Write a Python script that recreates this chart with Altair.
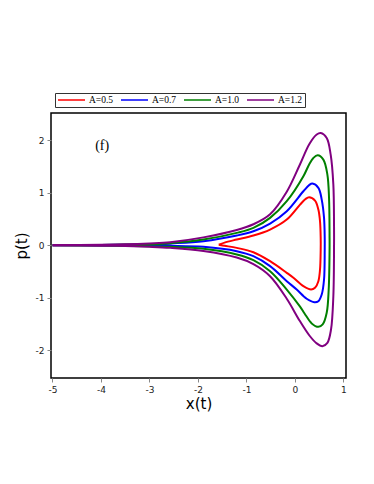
import altair as alt
import pandas as pd

series_names = ["A=0.5", "A=0.7", "A=1.0", "A=1.2"]
colors = ["#ff0000", "#0000ff", "#008000", "#800080"]

# Red (A=0.5): closed loop starting at the left tip
x_red = [-1.57, -1.45, -1.198, -0.855, -0.511, -0.167, 0.107, 0.22, 0.293, 0.416, 0.485, 0.519, 0.533,
         0.533, 0.519, 0.485, 0.416, 0.334, 0.176, -0.03, -0.167, -0.511, -0.855, -1.198, -1.45, -1.57]
p_red = [0.01, 0.05, 0.109, 0.185, 0.299, 0.489, 0.775, 0.88, 0.915, 0.851, 0.68, 0.457, 0.14,
         -0.082, -0.463, -0.685, -0.812, -0.844, -0.78, -0.62, -0.526, -0.304, -0.133, -0.05, -0.01, 0.01]

# Blue (A=0.7)
x_blue = [-5, -4, -3.5, -3, -2.573, -1.886, -1.198, -0.855, -0.511, -0.167, 0.176, 0.3, 0.361, 0.485, 0.554, 0.602, 0.616,
          0.616, 0.602, 0.554, 0.485, 0.402, 0.244, 0.038, -0.167, -0.511, -0.855, -1.198, -1.886, -2.573, -3, -3.5, -4, -5]
p_blue = [0.002, 0.005, 0.01, 0.018, 0.035, 0.077, 0.185, 0.267, 0.413, 0.648, 1.029, 1.15, 1.175, 1.093, 0.87, 0.52, 0.14,
          -0.082, -0.653, -0.939, -1.066, -1.085, -1.02, -0.844, -0.685, -0.399, -0.209, -0.114, -0.031, -0.012, -0.008, -0.005, -0.003, -0.001]

# Green (A=1.0)
x_green = [-5, -4, -3.5, -3, -2.573, -1.886, -1.198, -0.855, -0.511, -0.167, 0.176, 0.3, 0.382, 0.471, 0.588, 0.671, 0.705, 0.716,
           0.716, 0.698, 0.657, 0.574, 0.485, 0.348, 0.2, 0.107, -0.167, -0.511, -0.855, -1.198, -1.886, -2.573, -3, -3.5, -4, -5]
p_green = [0.002, 0.006, 0.012, 0.022, 0.04, 0.109, 0.236, 0.331, 0.521, 0.839, 1.315, 1.55, 1.664, 1.715, 1.632, 1.347, 0.902, 0.14,
           -0.082, -0.844, -1.288, -1.51, -1.555, -1.49, -1.30, -1.17, -0.844, -0.495, -0.285, -0.177, -0.069, -0.03, -0.02, -0.01, -0.005, -0.002]

# Purple (A=1.2)
x_purple = [-5, -4, -3.5, -3, -2.573, -1.886, -1.198, -0.855, -0.511, -0.167, 0.1, 0.3, 0.451, 0.533, 0.657, 0.739, 0.794, 0.808,
            0.808, 0.794, 0.746, 0.671, 0.567, 0.45, 0.3, 0.1, -0.167, -0.511, -0.855, -1.198, -1.886, -2.573, -3, -3.5, -4, -5]
p_purple = [0.003, 0.01, 0.018, 0.035, 0.058, 0.15, 0.29, 0.40, 0.59, 1.02, 1.53, 1.93, 2.11, 2.14, 2.045, 1.727, 1.156, 0.394,
            -0.082, -0.971, -1.606, -1.86, -1.923, -1.87, -1.72, -1.44, -1.02, -0.59, -0.36, -0.235, -0.11, -0.05, -0.03, -0.015, -0.008, -0.003]

x_ticks = [-5, -4.5, -4, -3.5, -3, -2.5, -2, -1.5, -1, -0.5, 0, 0.5, 1]
y_ticks = [-2, -1, 0, 1, 2]

rows = []
for name, xs, ps in zip(series_names, [x_red, x_blue, x_green, x_purple], [p_red, p_blue, p_green, p_purple]):
    for i, (xv, pv) in enumerate(zip(xs, ps)):
        rows.append({"A": name, "x": xv, "p": pv, "i": i})
df = pd.DataFrame(rows)

xscale = alt.Scale(domain=[-5.03, 1.055], nice=False, zero=False)
yscale = alt.Scale(domain=[-2.53, 2.52], nice=False, zero=False)

lines = alt.Chart(df).mark_line(strokeWidth=2, interpolate="catmull-rom").encode(
    x=alt.X("x:Q", scale=xscale, title="x(t)",
            axis=alt.Axis(values=x_ticks, labelExpr="datum.value % 1 == 0 ? toString(datum.value) : ''",
                          grid=False, tickSize=4, labelFontSize=9, titleFontSize=15,
                          labelFont="DejaVu Sans", titleFont="DejaVu Sans", titleFontWeight="normal",
                          labelColor="#222", tickColor="#888", domain=False, titlePadding=2, labelPadding=3)),
    y=alt.Y("p:Q", scale=yscale, title="p(t)",
            axis=alt.Axis(values=y_ticks, labelExpr="toString(datum.value)",
                          grid=False, tickSize=4, labelFontSize=9, titleFontSize=15,
                          labelFont="DejaVu Sans", titleFont="DejaVu Sans", titleFontWeight="normal",
                          labelColor="#222", tickColor="#888", domain=False, titlePadding=6, labelPadding=3)),
    color=alt.Color("A:N", scale=alt.Scale(domain=series_names, range=colors),
                    legend=alt.Legend(title=None, orient="none", legendX=4, legendY=-20,
                                      direction="horizontal", symbolType="stroke", symbolSize=729,
                                      symbolStrokeWidth=1.5, labelFont="Liberation Serif", labelFontSize=9.5,
                                      labelColor="black", strokeColor="#333", padding=2, columnPadding=6,
                                      labelOffset=3, clipHeight=10)),
    order=alt.Order("i:Q"),
)

label_df = pd.DataFrame({"x": [-3.975], "p": [1.9], "t": ["(f)"]})
label = alt.Chart(label_df).mark_text(font="Liberation Serif", fontSize=14, color="black").encode(
    x=alt.X("x:Q", scale=xscale), y=alt.Y("p:Q", scale=yscale), text="t:N")

chart = alt.layer(lines, label).properties(
    width=295, height=265,
    background="white",
    autosize=alt.AutoSizeParams(type="none"),
    padding={"left": 43, "top": 105, "right": 20, "bottom": 90},
).configure_view(stroke="black", strokeWidth=1.5)

chart.save("out.html", embed_options={"renderer": "svg", "actions": False})
